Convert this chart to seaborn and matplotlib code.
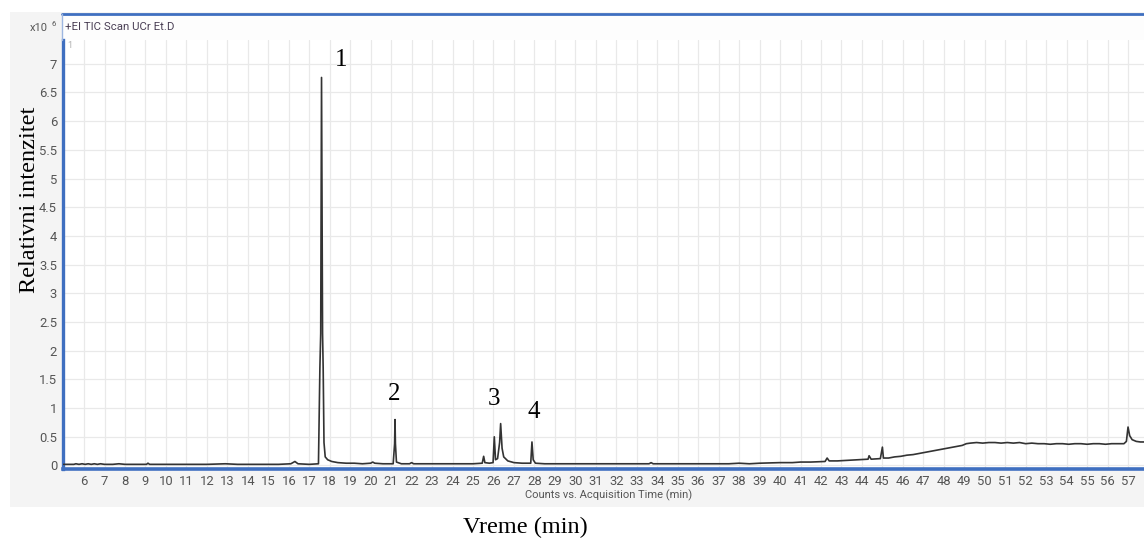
import matplotlib
matplotlib.use("Agg")
import matplotlib.pyplot as plt
import seaborn as sns
from matplotlib.patches import Rectangle
from matplotlib.lines import Line2D

# ---------------- data ----------------
rt_min = [
    5.00, 5.50, 5.60, 5.75, 5.90, 6.05, 6.20, 6.35, 6.50, 6.65, 6.80, 7.00, 7.40, 7.70,
    8.00, 8.60, 9.05, 9.12, 9.20, 10.0, 11.0, 12.0, 12.9, 13.5, 14.5, 15.5, 16.10, 16.30,
    16.45, 17.00, 17.45, 17.52, 17.56, 17.60, 17.62, 17.65, 17.68, 17.72, 17.78, 17.90,
    18.10, 18.40, 18.80, 19.20, 19.60, 20.00, 20.10, 20.20, 20.60, 21.10, 21.17, 21.19,
    21.21, 21.26, 21.50, 21.90, 22.00, 22.10, 22.60, 23.20, 23.80, 24.40, 25.00, 25.45,
    25.52, 25.58, 25.80, 25.98, 26.04, 26.10, 26.20, 26.30, 26.35, 26.42, 26.50, 26.70,
    27.00, 27.40, 27.82, 27.88, 27.94, 28.05, 28.50, 29.50, 30.50, 31.50, 32.50, 33.60,
    33.70, 33.80, 34.50, 35.50, 36.50, 37.50, 38.00, 38.50, 39.00, 40.00, 40.60, 41.00,
    41.50, 42.20, 42.30, 42.40, 42.80, 43.30, 43.80, 44.30, 44.35, 44.45, 44.90, 45.00,
    45.05, 45.30, 45.60, 45.90, 46.20, 46.50, 46.80, 47.10, 47.40, 47.70, 48.00, 48.30,
    48.60, 48.90, 49.10, 49.30, 49.60, 49.90, 50.20, 50.50, 50.80, 51.10, 51.40, 51.70,
    52.00, 52.30, 52.60, 52.90, 53.20, 53.50, 53.80, 54.10, 54.40, 54.70, 55.00, 55.30,
    55.60, 55.90, 56.20, 56.50, 56.80, 56.92, 57.00, 57.08, 57.20, 57.40, 57.60, 57.80,
]
intensity_e6 = [
    0.02, 0.02, 0.03, 0.02, 0.03, 0.02, 0.03, 0.02, 0.03, 0.02, 0.03, 0.02, 0.02, 0.03,
    0.02, 0.02, 0.02, 0.04, 0.02, 0.02, 0.02, 0.02, 0.03, 0.02, 0.02, 0.02, 0.03, 0.07,
    0.03, 0.02, 0.03, 1.70, 2.30, 6.76, 4.84, 2.30, 1.70, 0.40, 0.15, 0.10,
    0.07, 0.05, 0.04, 0.04, 0.03, 0.04, 0.06, 0.04, 0.03, 0.03, 0.38, 0.80,
    0.38, 0.06, 0.03, 0.03, 0.05, 0.03, 0.03, 0.03, 0.03, 0.03, 0.03, 0.04,
    0.16, 0.05, 0.04, 0.05, 0.50, 0.10, 0.12, 0.40, 0.73, 0.30, 0.15, 0.08,
    0.05, 0.04, 0.04, 0.41, 0.10, 0.04, 0.03, 0.03, 0.03, 0.03, 0.03, 0.03,
    0.05, 0.03, 0.03, 0.03, 0.03, 0.03, 0.04, 0.03, 0.04, 0.05, 0.05, 0.06,
    0.06, 0.07, 0.13, 0.08, 0.08, 0.09, 0.10, 0.11, 0.17, 0.11, 0.12, 0.32,
    0.13, 0.13, 0.15, 0.16, 0.18, 0.19, 0.21, 0.23, 0.25, 0.27, 0.29, 0.31,
    0.33, 0.35, 0.38, 0.39, 0.40, 0.39, 0.40, 0.40, 0.39, 0.40, 0.39, 0.40,
    0.38, 0.39, 0.38, 0.38, 0.37, 0.38, 0.38, 0.37, 0.38, 0.38, 0.37, 0.38,
    0.38, 0.37, 0.38, 0.38, 0.38, 0.42, 0.67, 0.52, 0.45, 0.42, 0.41, 0.41,
]
peak_labels = ["1", "2", "3", "4"]
peak_rt = [17.60, 21.19, 26.35, 27.88]

x_ticks = list(range(6, 58))
y_ticks = [0, 0.5, 1, 1.5, 2, 2.5, 3, 3.5, 4, 4.5, 5, 5.5, 6, 6.5, 7]
y_tick_labels = ["0", "0.5", "1", "1.5", "2", "2.5", "3", "3.5", "4", "4.5",
                 "5", "5.5", "6", "6.5", "7"]

# ---------------- figure ----------------
sns.set_style("white")
plt.rcParams["font.family"] = ["DejaVu Sans"]

W, H = 1144, 544
fig = plt.figure(figsize=(W / 100, H / 100), dpi=100)
fig.patch.set_facecolor("white")


def px(x, y):
    return x / W, 1 - y / H


BLUE = "#3f6fc0"
# gray application panel
x0, y0 = px(10, 507)
x1, y1 = px(W, 12)
fig.patches.append(Rectangle((x0, y0), x1 - x0, y1 - y0, transform=fig.transFigure,
                             facecolor="#f4f4f4", edgecolor="none", zorder=-10))
# white header band
hx0, hy0 = px(62, 40)
hx1, hy1 = px(W, 14)
fig.patches.append(Rectangle((hx0, hy0), hx1 - hx0, hy1 - hy0, transform=fig.transFigure,
                             facecolor="#fdfdfd", edgecolor="none", zorder=-9))
# frame lines
fig.add_artist(Line2D([hx0, 1], [hy1, hy1], transform=fig.transFigure,
                      color=BLUE, lw=2.0, zorder=3))
fig.add_artist(Line2D([hx0, hx0], [hy0, hy1], transform=fig.transFigure,
                      color="#9db6e0", lw=1.0, zorder=3))

ax_l, ax_b = px(63, 469)
ax_r, ax_t = px(W, 40)
ax = fig.add_axes([ax_l, ax_b, ax_r - ax_l, ax_t - ax_b])
ax.set_zorder(1)
ax.set_facecolor("white")

sns.lineplot(x=rt_min, y=intensity_e6, ax=ax, color="#333333", linewidth=1.2,
             estimator=None, sort=False, zorder=3)

ax.set_xlim(4.97, 57.78)
ax.set_ylim(-0.061, 7.413)
ax.set_xticks(x_ticks)
ax.set_xticklabels([str(t) for t in x_ticks])
ax.set_yticks(y_ticks)
ax.set_yticklabels(y_tick_labels)
ax.grid(True, color="#e9e9e9", linewidth=0.9, zorder=0)
ax.set_axisbelow(True)

tick_font = ["Roboto", "DejaVu Sans"]
ax.tick_params(axis="both", direction="out", length=3.5, width=1.0, color="#606060",
               labelcolor="#555555", labelsize=9.4, pad=0.8)
for lab in ax.get_xticklabels() + ax.get_yticklabels():
    lab.set_family(tick_font)

for side in ["top", "right"]:
    ax.spines[side].set_visible(False)
ax.spines["left"].set_color(BLUE)
ax.spines["left"].set_linewidth(2.4)
ax.spines["bottom"].set_color(BLUE)
ax.spines["bottom"].set_linewidth(2.6)
ax.set_xlabel("")
ax.set_ylabel("")

# header texts
fig.text(*px(30, 28), "x10", fontsize=8, color="#555555", family=tick_font,
         ha="left", va="center")
fig.text(*px(51, 24), "6", fontsize=5.5, color="#555555", family=tick_font,
         ha="left", va="center")
fig.text(*px(65, 27), "+EI TIC Scan UCr Et.D", fontsize=8.2, color="#4a3f55",
         family=tick_font, ha="left", va="center")
fig.text(*px(67, 46), "1", fontsize=6.5, color="#b0b0b0", family=tick_font,
         ha="left", va="center", zorder=5)
fig.text(*px(609, 495), "Counts vs. Acquisition Time (min)", fontsize=8,
         color="#555555", family=tick_font, ha="center", va="center")

# overlay labels in serif
serif = ["Liberation Serif", "DejaVu Serif"]
fig.text(*px(525, 527), "Vreme (min)", fontsize=17.5, family=serif, color="black",
         ha="center", va="center")
fig.text(*px(30, 200), "Relativni intenzitet", fontsize=17.5, family=serif,
         color="black", rotation=90, ha="center", va="center", zorder=5)

label_pos = [(341.5, 60), (394.5, 394), (494, 399), (533.5, 412)]
for lab, (lx, ly) in zip(peak_labels, label_pos):
    fig.text(*px(lx, ly), lab, fontsize=18, family=serif, color="black",
             ha="center", va="center", zorder=5)

fig.savefig("out.png", dpi=100)
